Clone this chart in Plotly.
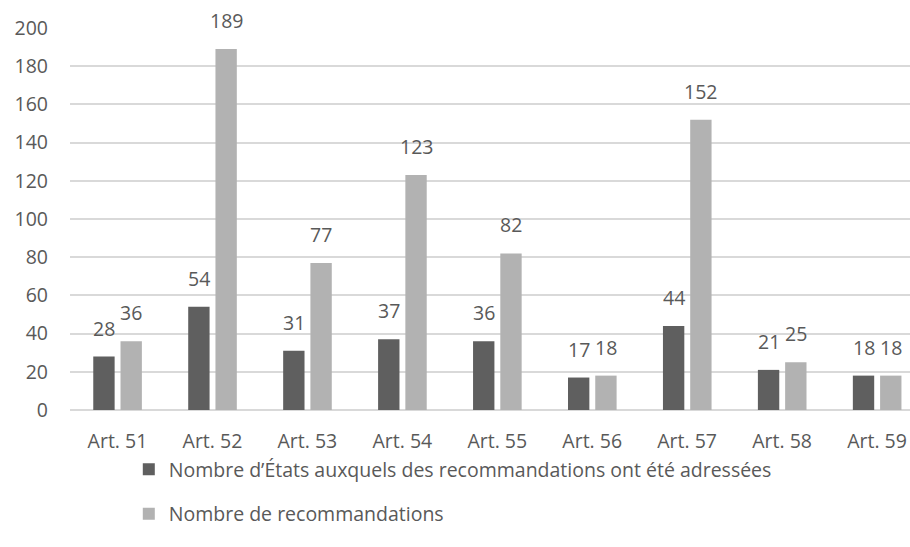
import plotly.graph_objects as go

categories = ["Art. 51", "Art. 52", "Art. 53", "Art. 54", "Art. 55", "Art. 56", "Art. 57", "Art. 58", "Art. 59"]
etats = [28, 54, 31, 37, 36, 17, 44, 21, 18]
recommandations = [36, 189, 77, 123, 82, 18, 152, 25, 18]
series_names = ["Nombre d’États auxquels des recommandations ont été adressées", "Nombre de recommandations"]
y_ticks = [0, 20, 40, 60, 80, 100, 120, 140, 160, 180, 200]

DARK = "#5f5f5f"
LIGHT = "#b2b2b2"
TXT = "#595959"
FONT = "Open Sans"
FS = 19.5
W = 0.225
OFFS = [-0.255, 0.032]

fig = go.Figure()
xs = list(range(len(categories)))
for i, (name, vals, col) in enumerate(zip(series_names, [etats, recommandations], [DARK, LIGHT])):
    fig.add_trace(go.Bar(x=xs, y=vals, name=name, marker_color=col, width=W, offset=OFFS[i],
                         legendgroup=f"g{i}", marker_line_width=0))

annotations = []
for i, vals in enumerate([etats, recommandations]):
    for x, v in zip(xs, vals):
        annotations.append(dict(x=x + OFFS[i] + W / 2, y=v, text=str(v), showarrow=False,
                                yanchor="bottom", yshift=13, xref="x", yref="y",
                                font=dict(family=FONT, size=FS, color=TXT)))

fig.update_layout(
    width=910, height=547,
    margin=dict(l=70, r=0, t=28, b=137),
    paper_bgcolor="white", plot_bgcolor="white",
    barmode="group",
    font=dict(family=FONT, size=FS, color=TXT),
    annotations=annotations,
    showlegend=True,
    legend=dict(orientation="v", x=0.07, y=-0.105, xanchor="left", yanchor="top",
                font=dict(family=FONT, size=FS, color=TXT), tracegroupgap=16,
                itemclick=False),
    xaxis=dict(tickmode="array", tickvals=xs, ticktext=categories, range=[-0.5, 8.347],
               showgrid=False, zeroline=False, showline=False, ticks="", ticklabelstandoff=17,
               tickfont=dict(family=FONT, size=FS, color=TXT)),
    yaxis=dict(range=[0, 200], tickvals=y_ticks, showgrid=True, gridcolor="#d9d9d9", gridwidth=1.5,
               zeroline=True, zerolinecolor="#d9d9d9", zerolinewidth=1.5, ticks="",
               ticklabelstandoff=21, tickfont=dict(family=FONT, size=FS, color=TXT)),
)
fig.write_html("out.html")
